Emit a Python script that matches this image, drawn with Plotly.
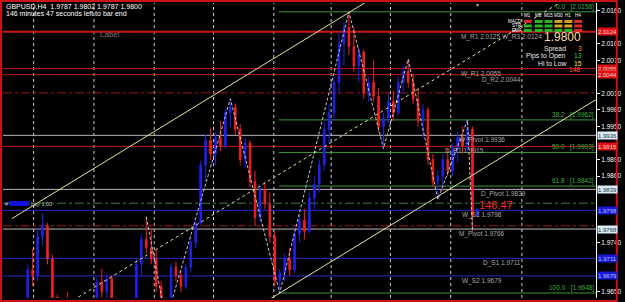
import plotly.graph_objects as go

# ---------------- data ----------------
bar_index = list(range(96))
opens = [1.9610, 1.9620, 1.9628, 1.9615, 1.9625, 1.9690, 1.9680, 1.9750, 1.9770, 1.9710,
         1.9640, 1.9612, 1.9620, 1.9615, 1.9600, 1.9605, 1.9590, 1.9610, 1.9625, 1.9668,
         1.9650, 1.9675, 1.9636, 1.9612, 1.9620, 1.9610, 1.9635, 1.9700, 1.9745, 1.9730,
         1.9710, 1.9660, 1.9625, 1.9635, 1.9695, 1.9680, 1.9660, 1.9695, 1.9740, 1.9775,
         1.9880, 1.9925, 1.9900, 1.9930, 1.9915, 1.9975, 1.9985, 1.9945, 1.9890, 1.9920,
         1.9850, 1.9785, 1.9835, 1.9810, 1.9750, 1.9670, 1.9685, 1.9710, 1.9690, 1.9755,
         1.9780, 1.9760, 1.9820, 1.9845, 1.9880, 1.9945, 1.9975, 2.0030, 2.0100, 2.0130,
         2.0095, 2.0060, 2.0085, 2.0010, 2.0030, 2.0005, 1.9950, 1.9965, 1.9995, 1.9975,
         2.0030, 2.0050, 2.0030, 2.0000, 1.9960, 1.9980, 1.9890, 1.9850, 1.9860, 1.9890,
         1.9870, 1.9910, 1.9930, 1.9915, 1.9945, 1.9787]
highs = [1.9625, 1.9632, 1.9636, 1.9630, 1.9700, 1.9728, 1.9765, 1.9793, 1.9775, 1.9718,
         1.9645, 1.9628, 1.9650, 1.9625, 1.9612, 1.9620, 1.9615, 1.9630, 1.9676, 1.9692,
         1.9682, 1.9680, 1.9640, 1.9625, 1.9632, 1.9640, 1.9710, 1.9755, 1.9786, 1.9765,
         1.9726, 1.9670, 1.9640, 1.9702, 1.9705, 1.9690, 1.9700, 1.9748, 1.9780, 1.9888,
         1.9936, 1.9948, 1.9940, 1.9960, 1.9982, 2.0000, 1.9992, 1.9955, 1.9930, 1.9925,
         1.9870, 1.9845, 1.9850, 1.9830, 1.9760, 1.9690, 1.9720, 1.9730, 1.9765, 1.9790,
         1.9800, 1.9830, 1.9860, 1.9890, 1.9958, 1.9990, 2.0040, 2.0120, 2.0140, 2.0158,
         2.0130, 2.0095, 2.0090, 2.0040, 2.0070, 2.0020, 1.9975, 2.0010, 2.0015, 2.0040,
         2.0060, 2.0072, 2.0045, 2.0020, 1.9990, 1.9985, 1.9900, 1.9870, 1.9900, 1.9910,
         1.9920, 1.9940, 1.9950, 1.9962, 1.9950, 1.9802]
lows = [1.9595, 1.9605, 1.9612, 1.9600, 1.9620, 1.9660, 1.9670, 1.9735, 1.9700, 1.9630,
        1.9600, 1.9595, 1.9610, 1.9590, 1.9580, 1.9585, 1.9575, 1.9600, 1.9620, 1.9640,
        1.9635, 1.9630, 1.9605, 1.9598, 1.9605, 1.9600, 1.9630, 1.9680, 1.9720, 1.9700,
        1.9650, 1.9615, 1.9598, 1.9630, 1.9670, 1.9650, 1.9655, 1.9685, 1.9730, 1.9770,
        1.9850, 1.9890, 1.9880, 1.9905, 1.9910, 1.9950, 1.9935, 1.9880, 1.9875, 1.9840,
        1.9770, 1.9775, 1.9800, 1.9740, 1.9660, 1.9648, 1.9670, 1.9680, 1.9685, 1.9740,
        1.9745, 1.9755, 1.9800, 1.9830, 1.9870, 1.9920, 1.9960, 2.0010, 2.0060, 2.0080,
        2.0050, 2.0030, 2.0000, 1.9995, 1.9995, 1.9940, 1.9910, 1.9955, 1.9960, 1.9970,
        2.0010, 2.0020, 1.9990, 1.9950, 1.9930, 1.9880, 1.9840, 1.9818, 1.9840, 1.9860,
        1.9860, 1.9885, 1.9900, 1.9905, 1.9760, 1.9787]
closes = [1.9620, 1.9628, 1.9615, 1.9625, 1.9690, 1.9680, 1.9750, 1.9770, 1.9710, 1.9640,
          1.9612, 1.9620, 1.9615, 1.9600, 1.9605, 1.9590, 1.9610, 1.9625, 1.9668, 1.9650,
          1.9675, 1.9636, 1.9612, 1.9620, 1.9610, 1.9635, 1.9700, 1.9745, 1.9730, 1.9710,
          1.9660, 1.9625, 1.9635, 1.9695, 1.9680, 1.9660, 1.9695, 1.9740, 1.9775, 1.9880,
          1.9925, 1.9900, 1.9930, 1.9915, 1.9975, 1.9985, 1.9945, 1.9890, 1.9920, 1.9850,
          1.9785, 1.9835, 1.9810, 1.9750, 1.9670, 1.9685, 1.9710, 1.9690, 1.9755, 1.9780,
          1.9760, 1.9820, 1.9845, 1.9880, 1.9945, 1.9975, 2.0030, 2.0100, 2.0130, 2.0095,
          2.0060, 2.0085, 2.0010, 2.0030, 2.0005, 1.9950, 1.9965, 1.9995, 1.9975, 2.0030,
          2.0050, 2.0030, 2.0000, 1.9960, 1.9980, 1.9890, 1.9850, 1.9860, 1.9890, 1.9870,
          1.9910, 1.9930, 1.9915, 1.9945, 1.9787, 1.9800]

zigzag_idx = [28, 32, 45, 55, 69, 76, 81, 87, 93, 94]
zigzag_price = [1.9786, 1.9598, 2.0000, 1.9648, 2.0158, 1.9910, 2.0072, 1.9818, 1.9962, 1.9760]

# equidistant channel (anchor on the swing low)
chan_anchor_idx = 55
chan_anchor_price = 1.9648
chan_slope = 0.000548          # price per bar
chan_width = 0.0432
chan_start_idx, chan_end_idx = 0.8, 119

# Fibonacci retracement
fib_levels = ["0.0", "38.2", "50.0", "61.8", "100.0"]
fib_prices = [2.0158, 1.9962, 1.9903, 1.9842, 1.9648]
fib_start_idx = 54.8

# pivot lines
pivot_names = ["M_R1 2.0125", "W_R3 2.0124", "W_R1 2.0055", "D_R2 2.0044", "W_Pivot 1.9936",
               "D_R1 1.9915", "D_Pivot 1.9839", "W_S1 1.9798", "M_Pivot 1.9766",
               "D_S1 1.9711", "W_S2 1.9679"]
pivot_prices = [2.0122, 2.0122, 2.0055, 2.0044, 1.9934, 1.9914, 1.9836, 1.9798, 1.9764,
                1.9711, 1.9679]

# open order line and its stop / target lines
order_price = 1.9811
order_label = "buy 1.00"
stop_target_prices = [2.0011, 1.9770]

separator_idx = [5.2, 17.4, 29.6, 41.6, 53.8, 65.4, 77.4, 89.6, 104.0]

yticks = [1.9650, 1.9680, 1.9710, 1.9740, 1.9770, 1.9800, 1.9830, 1.9860, 1.9890,
          1.9920, 1.9950, 1.9980, 2.0010, 2.0040, 2.0070, 2.0100, 2.0130, 2.0160]

axis_box_prices = [2.0122, 2.0055, 2.0044, 1.9934, 1.9914, 1.9836, 1.9798, 1.9764, 1.9711, 1.9679]
axis_box_texts = ["2.0124", "2.0055", "2.0044", "1.9936", "1.9915", "1.9839", "1.9798",
                  "1.9768", "1.9711", "1.9679"]
axis_box_kind = ["R", "R", "R", "P", "R", "P", "S", "P", "S", "S"]

symbol_line = "GBPUSD,H4  1.9787 1.9802 1.9787 1.9800"
timer_line = "146 minutes 47 seconds left to bar end"
bid_text = "1.9800"
timeframes = ["M1", "M5", "M15", "M30", "H1", "H4"]
signal_rows = ["MACD", "STR", "EMA"]
signal_state = [["dn", "up", "up", "mid", "mid", "dn"],
                ["up", "up", "up", "mid", "mid", "dn"],
                ["up", "up", "up", "up", "up", "dn"]]
info_labels = ["Spread", "Pips to Open", "Hi to Low"]
info_values = ["3", "13", "15"]
range_text = "148"
countdown_text = "146.47"

# ---------------- layout helpers ----------------
W, H = 625, 302
ML, MR, MT, MB = 3, 22, 3, 4
PW, PH = W - ML - MR, H - MT - MB


def px(x):
    return (x - ML) / PW


def py(y):
    return 1 - (y - MT) / PH


FONT = "Liberation Sans"
RED, BLUE, GRAY = "#c81818", "#2a2ac8", "#b8b8b8"
pivot_color = {"R": RED, "P": GRAY, "S": BLUE}


def kind(name):
    key = name.split()[0].split("_")[1]
    return "P" if key.startswith("Pivot") else key[0]


fig = go.Figure()

fig.add_trace(go.Candlestick(
    x=bar_index, open=opens, high=highs, low=lows, close=closes,
    increasing=dict(line=dict(color="#2020f0", width=1), fillcolor="#2020f0"),
    decreasing=dict(line=dict(color="#f02020", width=1), fillcolor="#f02020"),
    whiskerwidth=0, showlegend=False, hoverinfo="skip"))

fig.add_trace(go.Scatter(x=zigzag_idx, y=zigzag_price, mode="lines",
                         line=dict(color="#c8c8c8", width=1, dash="3px,2px"),
                         showlegend=False, hoverinfo="skip"))

for k, dash in [(0, "solid"), (0.5, "dot"), (1, "solid")]:
    xs = [chan_start_idx, chan_end_idx]
    ys = [chan_anchor_price + k * chan_width + (x - chan_anchor_idx) * chan_slope for x in xs]
    fig.add_trace(go.Scatter(x=xs, y=ys, mode="lines",
                             line=dict(color="#e6e49a", width=1, dash=dash),
                             showlegend=False, hoverinfo="skip"))

shapes = []
for sx in separator_idx:
    shapes.append(dict(type="line", xref="x", yref="paper", x0=sx, x1=sx, y0=0, y1=1,
                       line=dict(color="#d0d0d0", width=1, dash="dot"), layer="below"))
seen = set()
for name, p in zip(pivot_names, pivot_prices):
    if p in seen:
        continue
    seen.add(p)
    c = pivot_color[kind(name)]
    shapes.append(dict(type="line", xref="paper", yref="y", x0=0, x1=1, y0=p, y1=p,
                       line=dict(color=c, width=2 if p > 2.01 else 1), layer="below"))
shapes.append(dict(type="line", xref="paper", yref="y", x0=0, x1=1, y0=order_price,
                   y1=order_price, line=dict(color="#3f7a3f", width=1, dash="dashdot"),
                   layer="below"))
for p in stop_target_prices:
    shapes.append(dict(type="line", xref="paper", yref="y", x0=0, x1=1, y0=p, y1=p,
                       line=dict(color="#9a1818", width=1, dash="dashdot"), layer="below"))
for p in fib_prices:
    shapes.append(dict(type="line", xref="x", yref="y", x0=fib_start_idx, x1=chan_end_idx,
                       y0=p, y1=p, line=dict(color="#3c9a3c", width=1), layer="below"))
# order ticket marker (hidden ticket number)
shapes.append(dict(type="rect", xref="paper", yref="paper", x0=px(9), x1=px(29),
                   y0=py(206), y1=py(201), fillcolor="#1010e0", line=dict(width=0)))
# signal grid
col_x = [530, 541, 551, 561, 571, 581]
row_y = [20, 24.5, 29]
state_color = {"up": "#26b626", "mid": "#d4a21c", "dn": "#e02a2a"}
for r, row in enumerate(signal_state):
    for c, st in enumerate(row):
        shapes.append(dict(type="rect", xref="paper", yref="paper",
                           x0=px(col_x[c]), x1=px(col_x[c] + 8),
                           y0=py(row_y[r] + 3), y1=py(row_y[r]),
                           fillcolor=state_color[st], line=dict(width=0)))
# outer frame
shapes.append(dict(type="rect", xref="paper", yref="paper", x0=px(1), x1=px(624),
                   y0=py(301), y1=py(1), line=dict(color="#c81414", width=2)))

ann = []


def text(x, y, s, size=8, color="#ffffff", xanchor="left", yanchor="middle", xref="paper",
         yref="paper", **kw):
    ann.append(dict(x=x, y=y, text=s, xref=xref, yref=yref, showarrow=False,
                    xanchor=xanchor, yanchor=yanchor, borderpad=kw.pop("borderpad", 0),
                    font=dict(family=FONT, size=size, color=color), **kw))


text(px(5), py(6.5), symbol_line, size=7)
text(px(5), py(13.5), timer_line, size=7)
text(px(100), py(34), "Label", size=8, color="#7a7a7a")
text(px(4), py(203.5), "#", size=5.5, color="#c0c0c0")
text(px(30), py(203.5), order_label, size=5.5, color="#c0c0c0")

label_x = {"M_R1": 91.4, "W_R3": 99.8, "W_R1": 91.4, "D_R2": 95.8, "W_Pivot": 91.0,
           "D_R1": 88.2, "D_Pivot": 95.6, "W_S1": 91.6, "M_Pivot": 91.0, "D_S1": 96.0,
           "W_S2": 91.6}
for name, p in zip(pivot_names, pivot_prices):
    text(label_x[name.split()[0]], p, name, size=6.5, color="#a8a8a8", xref="x", yref="y",
         yanchor="top")

for lev, p in zip(fib_levels, fib_prices):
    text(px(602), p, f"{lev}   [{p:.4f}]", size=6.5, color="#3cb03c", xanchor="right",
         yanchor="bottom", yref="y")

box_style = {"R": ("#e01010", "#ffd0d0"), "P": ("#d8eef8", "#203040"), "S": ("#1818d8", "#b0c0ff")}
for p, t, k in zip(axis_box_prices, axis_box_texts, axis_box_kind):
    bg, fg = box_style[k]
    text(px(604), p, t, size=6, color=fg, yref="y", bgcolor=bg, width=19, height=7)

visible_ticks = [v for v in yticks if min(abs(v - b) for b in axis_box_prices) > 0.0014]

for c, tf in enumerate(timeframes):
    text(px(col_x[c] + 4), py(16), tf, size=4.5, xanchor="center")
for r, rl in enumerate(signal_rows):
    text(px(529), py(row_y[r] + 1.5), rl, size=4.5, xanchor="right")

text(px(589), py(37), bid_text, size=12, color="#ffdcae", xanchor="right")
val_colors = ["#ff9a20", "#30d030", "#f4ee20"]
for i, (lb, v) in enumerate(zip(info_labels, info_values)):
    yy = 48.5 + i * 7.3
    text(px(574), py(yy), lb, size=6.8, color="#e8e8e8", xanchor="right")
    text(px(590), py(yy), v, size=6.8, color=val_colors[i], xanchor="right")
text(px(589), py(69.5), range_text, size=6.8, color="#ff5020", xanchor="right")
text(px(483), py(5), "▼", size=5, color="#c0c0c0", xanchor="center")
text(px(484), py(205.5), countdown_text, size=11, color="#ff2020")

fig.update_layout(
    width=W, height=H, margin=dict(l=ML, r=MR, t=MT, b=MB),
    paper_bgcolor="#000000", plot_bgcolor="#000000", boxgap=0.55,
    shapes=shapes, annotations=ann, showlegend=False,
    xaxis=dict(range=[-1, 119], visible=False, rangeslider=dict(visible=False),
               showgrid=False, fixedrange=True),
    yaxis=dict(range=[1.9639, 2.0174], side="right", tickvals=visible_ticks,
               ticktext=[f"{v:.4f}" for v in visible_ticks], showgrid=False, zeroline=False,
               showline=True, linecolor="#ffffff", linewidth=1, ticks="outside",
               ticklen=3, tickcolor="#ffffff",
               tickfont=dict(family=FONT, size=6.5, color="#ffffff")),
)

fig.write_html("out.html")
